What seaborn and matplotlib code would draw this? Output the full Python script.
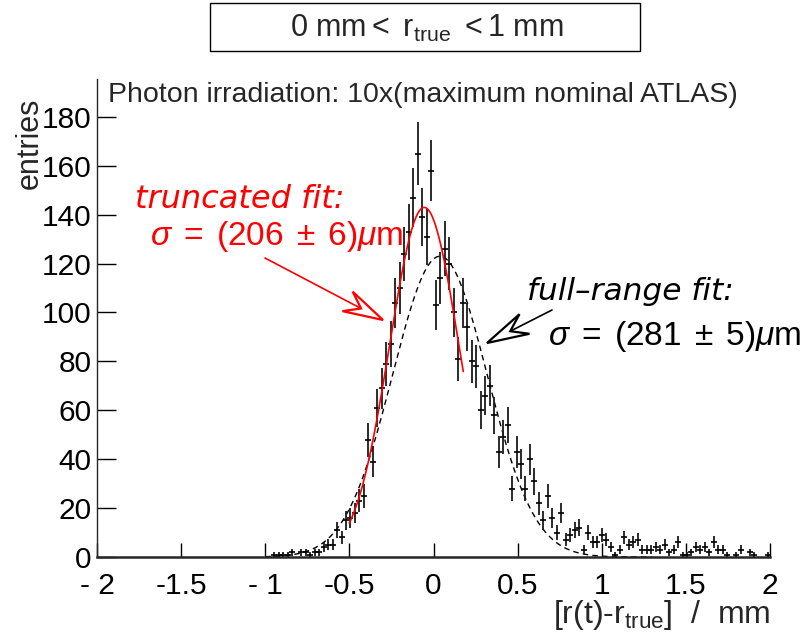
import numpy as np
import pandas as pd
import matplotlib
matplotlib.use("Agg")
import matplotlib.pyplot as plt
import seaborn as sns
from matplotlib.patches import Rectangle, Polygon
from matplotlib.lines import Line2D

# ---------------- data ----------------
n_bins = 150
x_min, x_max = -2.0, 2.0
first_bin = 39
counts = [
    1, 1, 1, 1, 2,
    0,
    2, 2, 1, 2, 2,
    4, 5, 5, 11, 8, 15, 16, 18, 23, 25,
    48, 39, 61, 69, 79, 87, 104, 110, 124, 133,
    147, 165, 139, 131, 158, 103, 114, 126, 120, 100,
    81, 104, 94, 80, 78, 60, 66, 70, 58, 43,
    49, 54, 28, 43, 38, 28, 40, 31, 22, 15,
    25, 16, 10, 18, 7, 9, 11, 12, 3, 10,
    6, 6, 9, 7, 4, 1, 3, 8, 5, 6,
    7, 3, 3, 3, 4, 3, 5, 2, 3, 6,
    1, 1, 2, 4, 3, 4, 2, 6, 3, 3,
    1, 0, 1, 3, 0, 2, 1, 0, 0, 1,
]
# fit parameters (amplitude, mean, sigma, range)
trunc_amp, trunc_mean, trunc_sigma = 143.0, -0.055, 0.206
trunc_range = (-0.50, 0.177)
full_amp, full_mean, full_sigma = 123.0, 0.038, 0.281
full_range = (-1.0, 1.3)

x_ticks = [-2, -1.5, -1, -0.5, 0, 0.5, 1, 1.5, 2]
x_tick_labels = ["- 2", "-1.5", "- 1", "-0.5", "0", "0.5", "1", "1.5", "2"]
y_ticks = [0, 20, 40, 60, 80, 100, 120, 140, 160, 180]

# ---------------- build tables ----------------
width = (x_max - x_min) / n_bins
centers = x_min + (np.arange(first_bin, first_bin + len(counts)) + 0.5) * width
df = pd.DataFrame({"x": centers, "n": counts})
df = df[df["n"] > 0].copy()
df["err"] = np.sqrt(df["n"])

def gauss(x, a, m, s):
    return a * np.exp(-0.5 * ((x - m) / s) ** 2)

xt = np.linspace(*trunc_range, 200)
df_t = pd.DataFrame({"x": xt, "y": gauss(xt, trunc_amp, trunc_mean, trunc_sigma)})
xf = np.linspace(*full_range, 400)
df_f = pd.DataFrame({"x": xf, "y": gauss(xf, full_amp, full_mean, full_sigma)})

# ---------------- style ----------------
sns.set_theme(style="ticks")
plt.rcParams["font.family"] = ["Liberation Sans", "DejaVu Sans"]
plt.rcParams["mathtext.fontset"] = "custom"
plt.rcParams["mathtext.rm"] = "Liberation Sans"
plt.rcParams["mathtext.it"] = "Liberation Sans:italic"
plt.rcParams["mathtext.sf"] = "Liberation Sans"

W, H = 806, 632
fig = plt.figure(figsize=(W / 100, H / 100), dpi=100)
fig.patch.set_facecolor("white")
ax = fig.add_axes([97 / W, (H - 557) / H, (770 - 97) / W, (557 - 79) / H])
ax.set_facecolor("white")

# data points
ax.errorbar(df["x"], df["n"], yerr=df["err"], fmt="none", ecolor="#1a1a1a",
            elinewidth=1.3, capsize=0, zorder=3)
sns.scatterplot(data=df, x="x", y="n", marker="_", s=22, color="black",
                linewidth=1.2, ax=ax, zorder=4)

# fits
sns.lineplot(data=df_f, x="x", y="y", ax=ax, color="black", lw=1.0,
             linestyle=(0, (4, 3)), zorder=2)
sns.lineplot(data=df_t, x="x", y="y", ax=ax, color="red", lw=1.2, zorder=5)

ax.set_xlim(x_min, x_max)
ax.set_ylim(0, 195.5)
sns.despine(ax=ax, top=True, right=True)
ax.spines["left"].set_linewidth(1.0)
ax.spines["bottom"].set_linewidth(1.8)
ax.set_xticks(x_ticks)
ax.set_xticklabels(x_tick_labels)
ax.set_yticks(y_ticks)
ax.tick_params(axis="x", direction="in", length=10, width=1.0, pad=11,
               labelsize=21.5, colors="black")
ax.tick_params(axis="y", direction="in", length=14, width=1.0, pad=4,
               labelsize=21.5, colors="black")
ax.set_xlabel("")
ax.set_ylabel("")

# axis titles
fig.text(30 / W, 1 - 98 / H, "entries", rotation=90, ha="center", va="top",
         fontsize=22)
fig.text(770 / W, 1 - 623 / H, r"[r(t)-r$_{\mathrm{true}}$]  /  mm", ha="right",
         va="baseline", fontsize=23)

# header box
fig.patches.append(Rectangle((210 / W, 1 - 51 / H), 430 / W, 48 / H,
                             transform=fig.transFigure, fill=False,
                             edgecolor="black", lw=1.0))
fig.text(427 / W, 1 - 28 / H, r"0 mm$<$ r$_{\mathrm{true}}$ $<$1 mm", ha="center",
         va="center", fontsize=22)

fig.text(108 / W, 1 - 102 / H, "Photon irradiation: 10x(maximum nominal ATLAS)",
         ha="left", va="baseline", fontsize=20.5)

# fit annotations
lab_font = ["DejaVu Sans"]
fig.text(135 / W, 1 - 208 / H, "truncated fit:", color="red", style="italic",
         family=lab_font, ha="left", va="baseline", fontsize=23)
fig.text(150 / W, 1 - 245 / H, r"$\sigma\;=\;(206\;\pm\;6)\mu\mathrm{m}$",
         color="red", ha="left", va="baseline", fontsize=24)
fig.text(527 / W, 1 - 300 / H, "full\u2013range fit:", color="black",
         style="italic", family=lab_font, ha="left", va="baseline", fontsize=22.5)
fig.text(548 / W, 1 - 345 / H, r"$\sigma\;=\;(281\;\pm\;5)\mu\mathrm{m}$",
         color="black", ha="left", va="baseline", fontsize=24)


def fig_arrow(x0, y0, x1, y1, color, L=40.0, hw=11.0, notch=0.62):
    """Arrow with a notched, hollow head, given in figure pixels (top-left origin)."""
    p0 = np.array([x0, H - y0], float)
    p1 = np.array([x1, H - y1], float)
    d = (p1 - p0) / np.linalg.norm(p1 - p0)
    nrm = np.array([-d[1], d[0]])
    back = p1 - L * d
    notch_pt = p1 - notch * L * d
    fig.lines.append(Line2D([p0[0] / W, notch_pt[0] / W], [p0[1] / H, notch_pt[1] / H],
                            transform=fig.transFigure, color=color, lw=1.2))
    pts = np.array([p1, back + hw * nrm, notch_pt, back - hw * nrm])
    pts[:, 0] /= W
    pts[:, 1] /= H
    fig.patches.append(Polygon(pts, closed=True, transform=fig.transFigure,
                               facecolor="white", edgecolor=color, lw=1.6,
                               joinstyle="miter", zorder=10))


fig_arrow(265, 258, 383, 320, "red")
fig_arrow(552, 310, 487, 343, "black", L=42.0)

fig.savefig("out.png", dpi=100, facecolor="white")
